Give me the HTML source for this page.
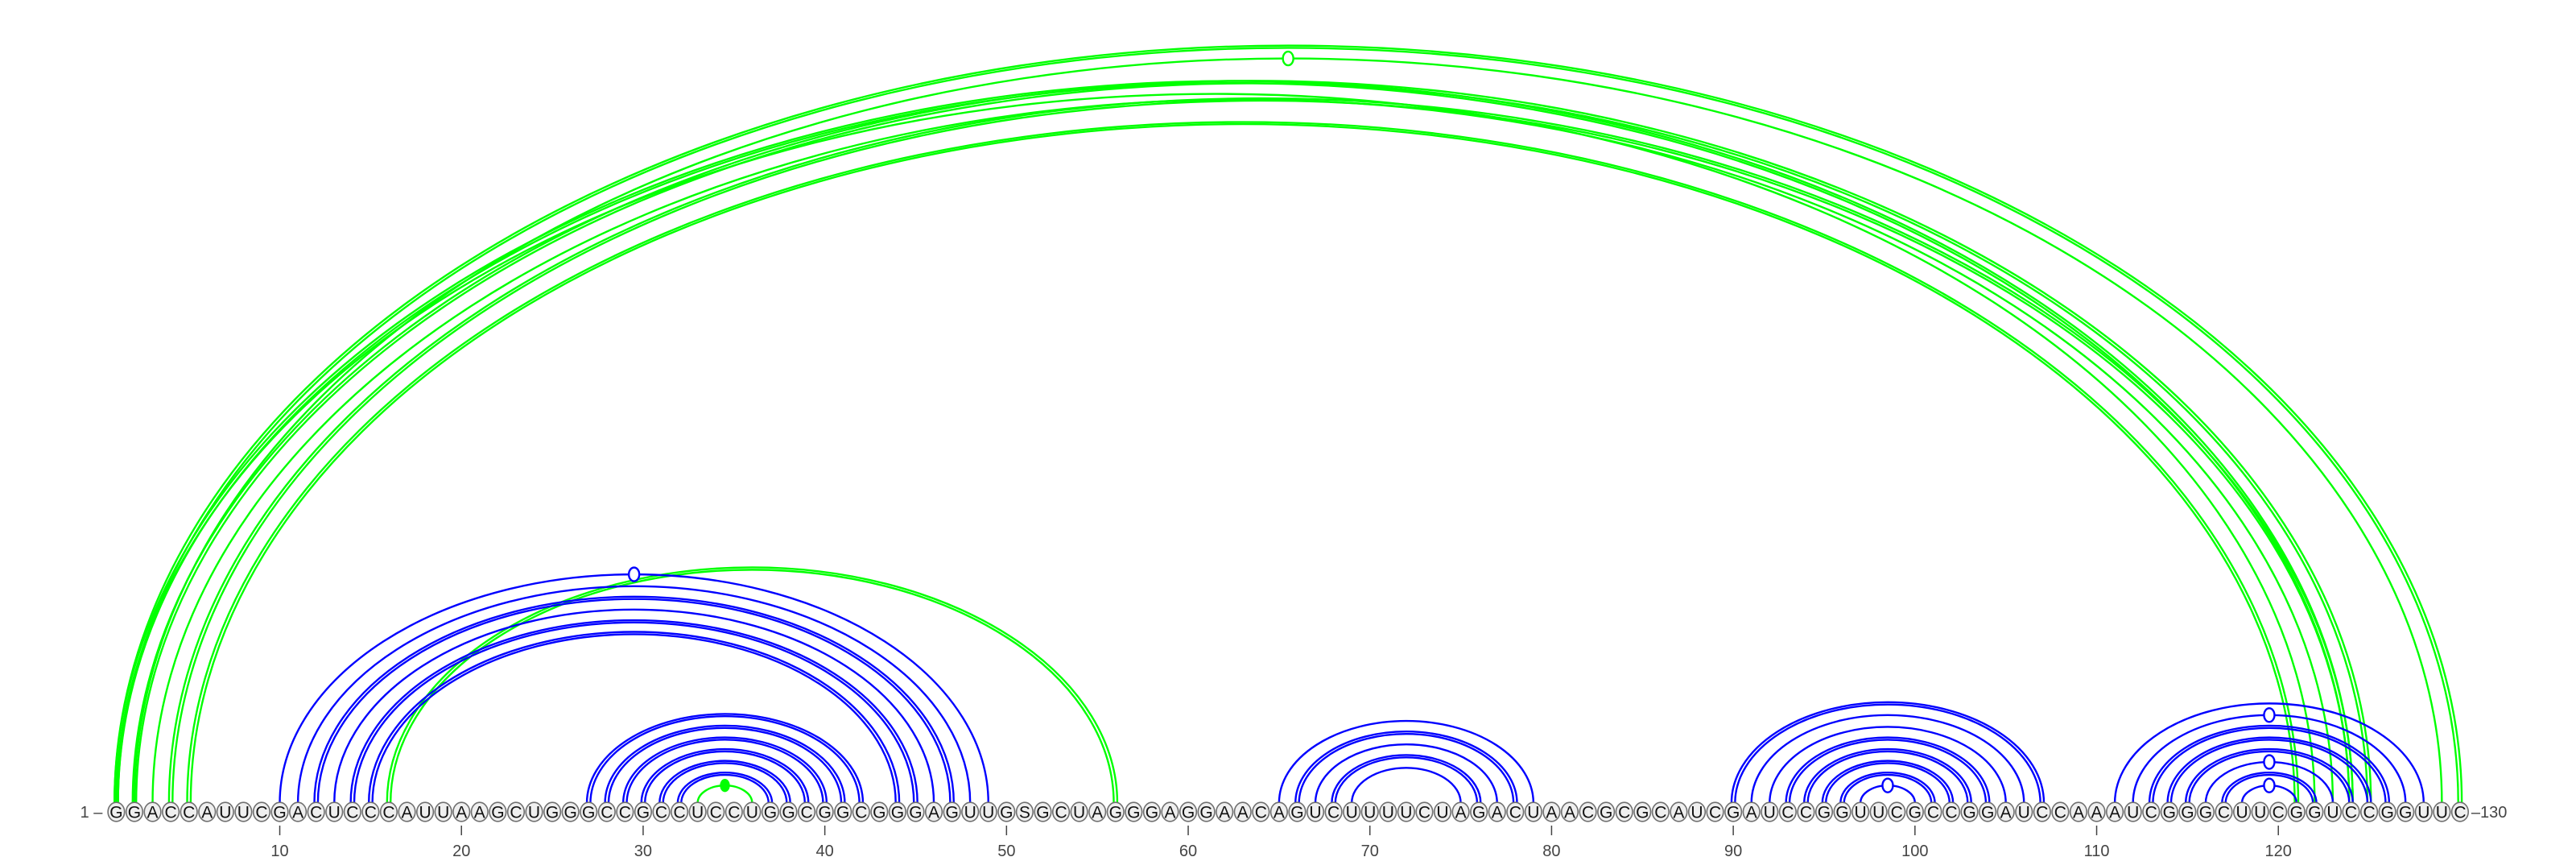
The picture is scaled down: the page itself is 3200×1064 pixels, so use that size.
<!DOCTYPE html>
<html><head><meta charset="utf-8">
<style>
html,body{margin:0;padding:0;background:#fff;}
svg{display:block;}
text{font-family:"Liberation Sans","DejaVu Sans",sans-serif;}
</style></head>
<body>
<svg id="chart" width="3200" height="1064" viewBox="0 0 3200 1064" xmlns="http://www.w3.org/2000/svg">
<g id="arcs"></g>
<g id="bases"></g>
<g id="axis"></g>
</svg>
<script>
const sequence = "GGACCAUUCGACUCCCAUUAAGCUGGGCCGCCUCCUGGCGGCGGGAGUUGSGCUAGGGAGGAACAGUCUUUUCUAGACUAACGCGCAUCGAUCCGGUUCGCCGGAUCCAAAUCGGGCUUCGGUCCGGUUC";
const tickLabels = [10,20,30,40,50,60,70,80,90,100,110,120];
const blueI = [10,11,12,13,14,15, 27,28,29,30,31,32, 65,66,67,68,69, 90,91,92,93,94,95,96,97, 111,112,113,114,115,116,117,118];
const blueJ = [49,48,47,46,45,44, 42,41,40,39,38,37, 79,78,77,76,75, 107,106,105,104,103,102,101,100, 128,127,126,125,124,123,122,121];
const blueMult = [1,1,2,1,2,2, 2,2,2,2,2,2, 1,2,1,2,1, 2,1,1,2,2,2,2,1, 1,1,2,2,2,1,2,1];
const blueMark = [1,0,0,0,0,0, 0,0,0,0,0,0, 0,0,0,0,0, 0,0,0,0,0,0,0,1, 0,1,0,0,0,1,0,1];
const greenI = [1,2,1,2,1,3,4,5,16,33];
const greenJ = [130,129,124,125,122,123,124,121,56,36];
const greenMult = [2,1,2,2,1,1,2,2,2,1];
const greenMark = [0,1,0,0,0,0,0,0,0,2];

const NS="http://www.w3.org/2000/svg";
const x0=144.4, dx=22.57, baseY=1008, arcY=997, ratio=0.645;
function xPos(i){ return x0+(i-1)*dx; }
function mk(tag,attrs,parent){ const e=document.createElementNS(NS,tag); for(const k in attrs) e.setAttribute(k,attrs[k]); parent.appendChild(e); return e; }
const arcsG=document.getElementById('arcs');
function drawArc(i,j,mult,mark,color,name){
  const xa=xPos(i), xb=xPos(j);
  const offs = mult===2 ? [-2.2,2.2] : [0];
  offs.forEach(o=>{
    const a=xa-o, b=xb+o, rx=(b-a)/2, ry=rx*ratio;
    const p=mk('path',{d:`M${a} ${arcY} A${rx} ${ry} 0 0 1 ${b} ${arcY}`,fill:'none',stroke:color,'stroke-width':2.4},arcsG);
    
    
  });
  if(mark){
    const rx=(xb-xa)/2, cy=arcY-rx*ratio;
    const m=mk('ellipse',{cx:(xa+xb)/2,cy:cy,rx:mark===2?5:6.5,ry:mark===2?7:8.5,fill:mark===2?color:'#fff',stroke:color,'stroke-width':2.4},arcsG);
    
    
  }
}
for(let k=0;k<greenI.length;k++) drawArc(greenI[k],greenJ[k],greenMult[k],greenMark[k],'#00ff00','green-pair-arc');
for(let k=0;k<blueI.length;k++) drawArc(blueI[k],blueJ[k],blueMult[k],blueMark[k],'#0000ff','blue-pair-arc');

const basesG=document.getElementById('bases');
for(let i=1;i<=sequence.length;i++){
  const g=mk('g',{},basesG);
  
  
  mk('ellipse',{cx:xPos(i),cy:baseY,rx:10.3,ry:11.8,fill:'#efefef',stroke:'#707070','stroke-width':1.6},g);
  const t=mk('text',{x:xPos(i),y:baseY+7.5,'text-anchor':'middle','font-size':21,fill:'#111'},g);
  t.textContent=sequence[i-1];
}
const axisG=document.getElementById('axis');
for(const v of tickLabels){
  const l=mk('line',{x1:xPos(v),x2:xPos(v),y1:1025,y2:1037,stroke:'#444','stroke-width':1.5},axisG);
  
  
  const t=mk('text',{x:xPos(v),y:1063,'text-anchor':'middle','font-size':20,fill:'#444'},axisG);
  
  
  t.textContent=v;
}
const s=mk('text',{x:xPos(1)-17,y:baseY+7,'text-anchor':'end','font-size':20,fill:'#444'},axisG);


s.textContent='1 –';
const e=mk('text',{x:xPos(sequence.length)+14,y:baseY+7,'text-anchor':'start','font-size':20,fill:'#444'},axisG);


e.textContent='–'+sequence.length;
</script>
</body></html>
